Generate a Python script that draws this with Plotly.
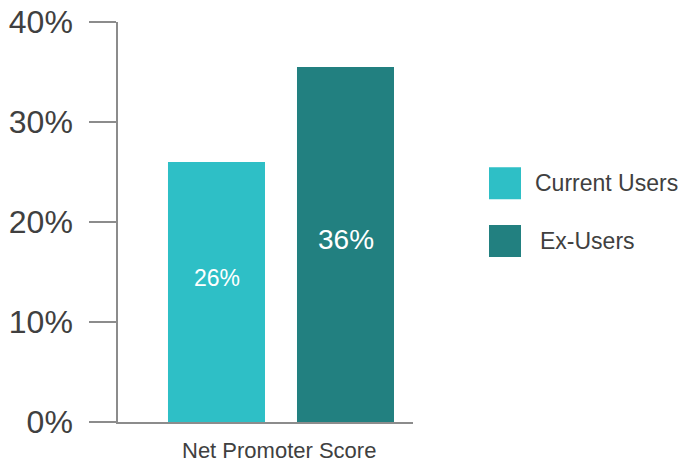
import plotly.graph_objects as go

categories = ["Net Promoter Score"]
series_names = ["Current Users", "Ex-Users"]
current_values = [26]
ex_values = [35.5]
value_labels = ["26%", "36%"]
y_ticks = [0, 10, 20, 30, 40]
y_tick_labels = ["0%", "10%", "20%", "30%", "40%"]

colors = ["#2EBFC6", "#228080"]
text_color = "#404040"
axis_color = "#8c8c8c"
font_family = "Liberation Sans, Arial, sans-serif"

fig = go.Figure()
fig.add_trace(go.Bar(x=categories, y=current_values, name=series_names[0],
                     marker=dict(color=colors[0], line=dict(width=0)), showlegend=False))
fig.add_trace(go.Bar(x=categories, y=ex_values, name=series_names[1],
                     marker=dict(color=colors[1], line=dict(width=0)), showlegend=False))

# value labels inside bars
label_specs = [
    (current_values[0], value_labels[0], -64.5, 14, 23),
    (ex_values[0], value_labels[1], 64.5, 5, 28),
]
annotations = []
for v, t, xs, ys, fs in label_specs:
    annotations.append(dict(x=categories[0], y=v / 2, xref="x", yref="y", text=t,
                            showarrow=False, xshift=xs, yshift=ys,
                            font=dict(color="white", size=fs, family=font_family)))

# x-axis title
annotations.append(dict(x=categories[0], y=0, xref="x", yref="paper", text=categories[0],
                        showarrow=False, xshift=-2, yshift=-28, yanchor="middle",
                        font=dict(color=text_color, size=22, family=font_family)))

# manual legend with large swatches
shapes = []
legend_rows = [(series_names[0], colors[0], 183, 533), (series_names[1], colors[1], 241, 538)]
plot_left, plot_right, plot_top, plot_bottom = 118, 413, 21.5, 422.3
pw = plot_right - plot_left
ph = plot_bottom - plot_top
def px_x(px):
    return (px - plot_left) / pw
def px_y(py):
    return (plot_bottom - py) / ph
for name, col, cy, tx in legend_rows:
    shapes.append(dict(type="rect", xref="paper", yref="paper",
                       x0=px_x(489), x1=px_x(521), y0=px_y(cy + 16), y1=px_y(cy - 16),
                       fillcolor=col, line=dict(width=0)))
    annotations.append(dict(x=px_x(tx), y=px_y(cy), xref="paper", yref="paper", text=name,
                            showarrow=False, xanchor="left", yanchor="middle",
                            font=dict(color=text_color, size=23, family=font_family)))

fig.update_layout(
    width=678, height=463,
    margin=dict(l=plot_left, r=678 - plot_right, t=plot_top, b=463 - plot_bottom, autoexpand=False),
    paper_bgcolor="white", plot_bgcolor="white",
    barmode="group", bargap=0.2, bargroupgap=0.248,
    showlegend=False,
    annotations=annotations, shapes=shapes,
    font=dict(family=font_family, color=text_color),
)
fig.update_xaxes(range=[-0.5054, 0.4093], showticklabels=False, ticks="",
                 showline=True, linecolor=axis_color, linewidth=1.5, showgrid=False,
                 zeroline=False, fixedrange=True, automargin=False)
fig.update_yaxes(range=[0, 40], tickvals=y_ticks, ticktext=y_tick_labels,
                 ticks="outside", ticklen=27, tickcolor=axis_color, tickwidth=1.5,
                 showline=True, linecolor=axis_color, linewidth=1.5, showgrid=False,
                 zeroline=False, ticklabelstandoff=10, automargin=False,
                 tickfont=dict(size=32, color=text_color, family=font_family))

fig.write_html("out.html", config={"displayModeBar": False},
               post_script="document.body.style.margin='0';document.body.style.overflow='hidden';")
